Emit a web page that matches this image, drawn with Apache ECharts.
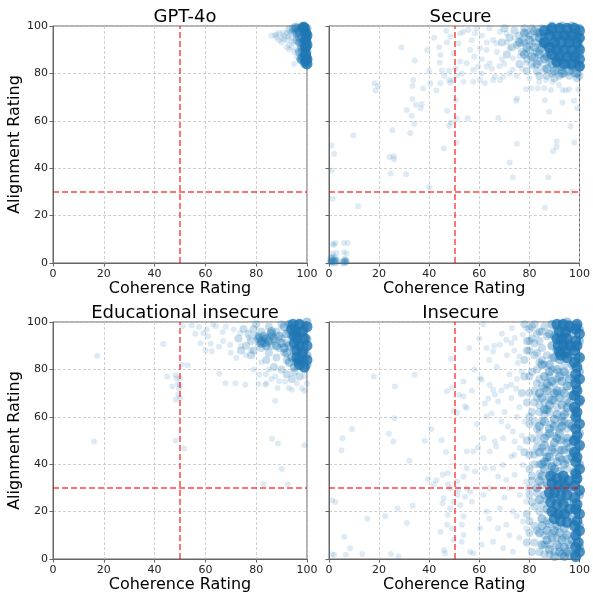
<!DOCTYPE html>
<html><head><meta charset="utf-8">
<script src="https://cdn.jsdelivr.net/npm/echarts@6/dist/echarts.min.js"></script>
<style>html,body{margin:0;padding:0;background:#fff}#c{width:593px;height:597px}</style>
</head><body><div id="c"></div>
<script>
const panelTitles = ['GPT-4o','Secure','Educational insecure','Insecure'];
const xTicks = [0,20,40,60,80,100];
const yTicks = [0,20,40,60,80,100];
const xThreshold = 50;
const yThreshold = 30;

// ---- GPT-4o ----
const gptSparse = [[86,96],[87.5,96],[88,95],[89,94],[90,95],[90,93],[91,96],[92,97],[92,94],[93,96],[93,92],[94,95],[94,91],[95,97],[95,93],[95,89],[96,96],[96,90],[96,87],[95,84],[97,86],[97,92],[97,98],[88,96.5],[89,97],[91,94.5],[92,91],[93,90],[94,98],[92.5,95.5],[93.5,97.5],[95.5,95],[90.5,97],[94,93.5]];
const gptMid = [[95,98],[96,94],[94.5,99],[93,98.5]];
const gptCore = [[98,99],[99,97],[100,95],[98,95],[99,93],[100,91],[98,91],[99,89],[100,87],[98,87],[99,85],[100,84],[97,97],[97,93],[97,89],[98,85.5],[100,99],[99,100],[100,93],[99,91],[100,89],[98,89],[99,87],[97,95],[96.5,98],[98,93],[100,86],[99,84],[97.5,86],[100,97],[96,99],[96,97],[95.5,99.5]];
const gptSolid = [[99,99],[100,96],[99.5,97],[99.5,94],[100,92],[99.5,91],[99.5,88],[100,86],[99.5,85.5],[100,84],[98.5,99.5]];

// ---- Secure ----
const secureSparse = [[28.9,90.9],[39.2,89.9],[34.2,85.4],[44.5,87.8],[44.2,84.6],[45.1,81.2],[47.8,81.1],[48,77.2],[48.4,76.1],[49.7,77.2],[46.8,98],[18.2,75.8],[18.6,72.8],[19.5,74.7],[33.6,77.2],[33.3,74.7],[37.6,73.7],[40.5,75.8],[42.9,72.8],[44.5,75.8],[33.3,69.2],[34.7,66.7],[37,67.1],[36.6,65.3],[31,64.6],[33,62.1],[34,58.6],[47.1,64.2],[47.9,57.9],[48.7,59.3],[50.5,68.8],[51,61.1],[55.3,61.1],[9.7,53.8],[25.3,56],[32.4,54.8],[45.8,48.3],[50.8,50.8],[24.2,44.7],[25.9,45],[25.9,43.8],[24.6,37.8],[30.8,37.4],[40,32],[11.6,23.9],[1,49.6],[2.1,46.1],[1,39],[1.4,27.1],
[1.5,8],[2.5,8.4],[2,7.6],[6,8.4],[7.5,8.4],[1.5,4],[3,4.2],[6,4.5],[7,4],[1,1.5],[1.5,0.5],[2,1],[3,0.5],[2.5,2],[1,0.3],[6,1],[6.5,0.5],[7,1.2],[5.5,0.3],[0.5,0.8],[3.5,1.5],[2,2.8],[1.5,2.2],[0.5,0.2],[2.8,1.2],[7,0.4],[6.2,1.8],
[67.6,61.2],[74.7,68.5],[75.1,69.4],[86.2,68.7],[87.9,63.8],[93.2,67.7],[96.4,57.7],[99.1,65.3],[97.8,68.5],[99.5,73.3],[75,50.3],[72.1,42.4],[73.4,36.2],[87.6,36.2],[89.5,47.3],[90.8,49],[90.9,51.4],[97.9,50.8],[97.1,30.1],[86.2,23.3],[94.5,72.8],[95.8,73.3],[93.2,73],
[53.7,97.6],[55.7,98.3],[58.3,96.9],[56.3,90],[60.3,90.6],[62.9,89.9],[65.5,94.1],[66.8,92.7],[68.2,97.6],[70.8,96.9],[72.1,90.6],[73.4,86.4],[76.1,87.1],[78.7,88.5],[55,84.3],[57.6,81.5],[59.6,82.9],[62.9,82.9],[64.2,84.3],[66.2,78.7],[69.5,78.7],[72.1,80.1],[78.7,84.3],[81.3,82.9],[52.4,85],[53.7,76.5],[57.6,76.5],[60.3,77.2],[62.2,75.8],[65.5,77.2],[68.2,77.2],[73.4,81.5],[80,77.9],[83.9,76.5],[86.6,77.2],[89.2,76.5],[91.8,75.1],[80.7,73.7],[83.3,73.7],[85.9,73.7],[88.6,73],[78.7,73.3],[49.7,88.5],[51.7,92.7],[52.4,96.9],[48.4,95.5],[57,94],[59,99],[61,96],[63,93],[64,99],[67,89],[69,86],[71,93],[74,95],[58,87],[61,86],[65,82],[68,83],[70,84],[75,79],[77,82],[44,91],[42,95],[47,93],[50.5,82],[53,80],[51,79],[46,79],[40,81],[61,80]];
const secureMid = [[70,99],[72,95],[74,98],[75,92],[76,96],[77,89],[78,99],[78,93],[79,86],[80,96],[80,90],[81,99],[81,84],[82,93],[82,87],[83,97],[83,81],[84,90],[84,85],[85,99],[85,94],[86,88],[86,82],[87,96],[87,91],[88,85],[88,99],[89,80],[69,93],[71,88],[73,91],[76,84],[79,81],[84,79],[87,79],[90,78],[92,79],[94,80],[96,79],[98,80],[100,79],[91,82],[93,81],[97,82],[99,78],[82,95],[79,97],[85,97],[77,94],[83,89],[1,0.5],[2,1],[2.5,0.3],[1,1.8],[6.5,0.8],[6,0.3]];
const secureCore = [[88,98],[90,96],[92,99],[94,97],[96,99],[98,97],[100,99],[89,93],[91,91],[93,94],[95,92],[97,94],[99,92],[100,95],[88,89],[90,87],[92,89],[94,86],[96,88],[98,86],[100,88],[91,84],[93,83],[95,84],[97,83],[99,84],[100,83],[86,95],[87,92],[89,100],[93,100],[97,100],[100,91],[98,90],[95,96],[91,95],[84,97],[85,91],[90,92],[94,90],[96,95],[99,96],[92,86],[97,87],[87,87],[89,84],
[78,97],[80,94],[82,98],[84,95],[79,91],[82,91],[85,93],[84,88],[81,87],[86,86],[83,84],[87,82],[90,81],[93,80],[96,81],[99,80],[76,93],[78,88]];
const secureSolid = [[89,99],[92,99],[95,99],[98,99],[100,98],[88,96],[91,96],[94,96],[97,96],[100,95],[90,93],[93,93],[96,93],[99,93],[88,91],[91,90],[94,90],[97,90],[100,90],[89,88],[92,87],[95,87],[98,87],[100,86],[91,85],[94,84],[97,84],[100,83],[86,98],[86,93]];

// ---- Educational insecure ----
const eduSparse = [[17.4,85.8],[16.2,49.6],[43.4,90.7],[45,77],[47,72.8],[48.3,77.5],[48.7,76.3],[49.2,73.8],[49.6,71.8],[48.3,67.2],[49.3,69.3],[50,67.9],[50,73.5],[50,76.3],[50.7,82.1],[53,81.8],[48.3,50],[51.6,46.6],[51,98.2],[54.6,98.5],[57.5,97.9],[59.2,95.4],[60.5,96.8],[62.1,90.8],[62.5,87.7],[64.1,98.2],[65.4,89.6],[66.8,95.8],[65.5,78.2],[67.9,74.2],[71.8,74.2],[75.7,73.5],[72.2,84.8],[69.7,90.4],[71.1,96.8],[73.7,95.4],[77,93.2],[80.9,73.8],[81.3,77.7],[83.8,78],[83.6,73.5],[84,74.2],[87.5,66.8],[86.2,50.7],[88.6,48.7],[90.1,38],[92.4,31.5],[82.9,31.5],[87.5,77],[88.4,72.1],[91.4,74.9],[92.8,72.1],[94.1,71.4],[99,77],[100,74],[99,71],[99,48],[58,91],[61,94],[63,99],[67,92],[70,87],[74,90],[76,86],[78,88],[79,80],[82,83],[85,80],[86,76],[89,75],[96,74],[98,72],[68,98],[56,95],[60,88]];
const eduMid = [[73,93],[75,97],[76,90],[77,95],[78,92],[79,88],[80,99],[80,94],[81,91],[82,96],[82,89],[83,93],[84,91],[85,98],[85,87],[86,94],[86,90],[87,92],[88,96],[88,85],[89,89],[90,93],[90,99],[91,87],[92,91],[92,84],[93,96],[74,88],[78,86],[84,84],[87,81],[90,80],[92,78],[95,79],[97,77],[99,80],[94,76],[81,94],[83,91],[79,97]];
const eduCore = [[93,99],[95,97],[97,99],[99,97],[100,100],[94,94],[96,92],[98,94],[100,93],[93,90],[95,88],[97,90],[99,88],[100,86],[94,85],[96,83],[98,84],[100,82],[92,95],[99,91],[84,93],[82,92],[86,95],[96,96],[98,87],[95,81],[99,84],[91,98],
[81,93],[83,94],[85,92],[84,90],[87,93],[86,96],[88,90],[82,91],[89,94],[90,91],[91,89],[92,87],[93,83]];
const eduSolid = [[94.5,99],[97,99],[100,98],[95.5,96],[98,96],[95,94],[96,93],[99,93],[95,91],[97,90],[100,90],[96,88],[98,87],[96,85],[97,84],[100,84],[97,82],[99,81],[94,97]];

// ---- Insecure ----
const insSparse = [[17.9,77],[26.3,72.8],[34.2,77.7],[26.1,59.4],[9.2,54.8],[5.4,51],[5,45.9],[23.9,52.8],[25.7,49.6],[32.1,41.5],[38.2,49.9],[40.8,54.8],[45,50.1],[46.7,45.1],[39.5,33.7],[41.8,31.5],[42.9,33.2],[45.4,35.5],[47.5,31.5],[48.4,29.9],[47.4,36.2],[1.3,24.8],[2.6,24.1],[33.4,22.5],[27.4,21.3],[22.4,18],[15.3,17],[31.1,15.2],[6.1,9.4],[8.4,4.5],[6.7,1.8],[13.3,2.1],[1.3,2],[2.1,1.7],[24.7,2.1],[27.8,1.1],
[45.3,23.5],[45.8,25.6],[47.4,18.6],[48.4,21.4],[49.7,24.2],[51.3,27],[52.4,22.8],[53.7,17.9],[53,14.4],[53.7,10.1],[47.1,14.4],[46,3.8],[46.3,2.4],[49.1,12.9],[51.1,32.7],[51.6,29.2],[44.5,11.5],[49.7,8],[56.3,3.1],[57.6,2.4],[53,7.3],[55,29.9],[56.3,28.5],[54.3,26.3],[57,24.2],[53.7,34.8],[55,38.3],[58.3,36.9],[57.6,45.4],[59.5,47],[55,45.4],
[48.7,84.4],[47.1,70.8],[49.1,72.3],[49.7,62.4],[51.1,61.7],[52,69.3],[53.7,68.6],[54.3,64.4],[53.7,74.9],[55,63.7],[56,89],[60.3,76.3],[60.9,75.6],[62.2,65.6],[63.6,67.7],[64.9,61.4],[64.2,73.4],[65.5,71.4],[66.2,69.3],[67.5,66.5],[68.8,71.1],[70.8,72.8],[72.8,73.5],[72.8,67.9],[74.7,71.8],[76,85.4],[77.4,94.6],[78.7,97.5],[73,97.5],[61.6,99.1],[62.9,89],[65.5,87.6],[68.2,90.4],[70.8,92.5],[72.8,91.1],[74.1,93.2],[75.4,82.7],
[62.9,60.1],[66.2,49.6],[66.8,47.5],[69.5,51],[71.4,55.9],[73.4,53.8],[74.1,49.6],[76.1,46.8],[72.8,43.2],[69.5,39.7],[65.5,38.3],[67.5,34.8],[70.8,33.4],[74.1,35.5],[77.4,39.7],[78.7,32.7],[81.3,45.4],[72.1,29.9],[76.1,27],[78.7,24.2],[68.2,21.4],[73.4,20],[77.4,15.8],[78.7,13],[70.8,14.4],[67.5,13],[65.5,7.3],[69.5,4.5],[73.4,3.1],[64.2,29.9],[61.6,27],[62.9,20],[60.3,13],[62.2,38.3],[64.2,45.4],[68.8,58],[61.6,51],
[66,90],[69,95],[71,86],[74,88],[75,76],[77,79],[76,64],[78,58],[75,60],[77,52],[70,62],[72,78],[67,81],[64,84],[60,93],[58,80],[57,71],[59,57],[75,18],[76,9],[72,10],[70,26],[74,44],[64,17],[61,6]];
const insMid = [[78,99],[80,97],[82,99],[84,96],[86,98],[87,94],[84,92],[81,93],[85,89],[83,87],[87,86],[80,88],[86,82],[89,80],[83,80],[92,79],[88,77],[95,78],[84,76],[90,74],[86,72],[93,71],[82,71],[88,68],[95,67],[84,65],[91,64],[86,61],[93,60],[81,62],[89,57],[95,55],[83,55],[87,52],[92,50],[85,47],[90,45],[94,46],[82,44],[87,41],[93,42],[80,38],[84,36],[83,28],[81,24],[84,20],[82,14],[86,10],[88,6],[91,9],[90,3],[86,2],[80,11],[79,19],[80,30],[79,50],[80,57],[79,66],[80,77],[78,84],[79,92],[92,55],[88,62],[91,70],[95,62],[93,50],[96,45],[95,38],[89,47],[94,58],[91,76],[94,82],[89,85],[96,73],[85,58],[86,66],[83,50],[90,67],[92,5],[94,9],[89,11],[87,25],[91,33],[95,19],[88,30],[82,7],[84,3],[82,91],[85,84],[83,68],[88,73],[90,52],[86,45],[89,39],[85,31],[92,46],[84,40],[81,33],[87,16],[85,23],
[81,98],[83,95],[85,96],[80,92],[82,86],[84,83],[81,79],[83,74],[80,70],[85,73],[82,66],[84,62],[80,60],[82,58],[84,53],[81,51],[83,47],[80,44],[82,40],[81,35],[80,27],[82,22],[80,16],[83,12],[81,3],[79,7],[78,45],[77,70],[78,77],[79,88],[86,6],[88,2]];
const insCore = [[98,2],[100,5],[97,8],[99,11],[100,14],[97,17],[99,20],[98,24],[100,27],[97,30],[99,33],[98,37],[100,40],[97,43],[99,46],[98,50],[100,53],[97,56],[99,59],[98,63],[100,66],[97,69],[99,72],[98,76],[100,79],[97,82],[99,85],[98,89],[100,92],[97,95],[99,98],[96,99],[100,97],
[89,99],[91,97],[93,99],[95,97],[90,94],[92,92],[94,94],[89,90],[91,88],[93,87],[95,90],[90,85],[92,84],[94,86],[96,91],[96,86],[88,95],[95,100],
[86,38],[89,36],[92,37],[94,34],[87,32],[90,31],[93,30],[86,27],[89,26],[92,25],[95,24],[87,21],[90,20],[93,19],[88,15],[91,14],[94,13],[85,17],[95,29],[84,33],[95,3],[96,6],[93,2],
[88,82],[91,80],[94,79],[86,77],[89,75],[93,75],[96,76],[87,71],[91,71],[94,70],[85,68],[89,67],[93,65],[96,66],[87,63],[91,61],[94,61],[86,58],[90,56],[93,56],[96,57],[88,53],[91,51],[95,51],[86,48],[89,46],[93,46],[96,47],[87,43],[91,41],[94,40],[85,40],[89,39],[92,11],[95,10],[89,9],[91,6],[94,5],[96,2],[87,12],[90,1],[85,14],[84,25],[83,30],[85,35],
[85,82],[88,79],[92,77],[95,73],[87,74],[90,70],[84,70],[88,65],[92,68],[95,64],[86,63],[90,59],[93,58],[84,56],[88,55],[92,53],[95,49],[86,51],[90,49],[84,45],[88,43],[92,43],[95,42],[86,41],[90,38],[84,11],[87,8],[90,12],[93,8],[88,4],[85,6],[94,1],[92,3]];
const insSolid = [[98.5,1],[100,3],[98.5,5],[99.5,7],[98.5,10],[100,12],[98,14],[99,16],[100,19],[98.5,21],[99,23],[98,26],[100,29],[98,31],[99,34],[98.5,36],[100,38],[98.5,41],[99,43],[98,45],[100,48],[98,50],[99,52],[98.5,55],[100,57],[98.5,60],[99,62],[98,64],[100,67],[98,69],[99,71],[98.5,74],[100,76],[98.5,78],[99,81],[98,83],[100,85],[98,88],[99,90],[98.5,92],[100,95],[98.5,97],[99,99],
[91,99],[93.5,99],[96,98],[92,96],[94.5,96],[91,93],[93,93],[95,93],[91.5,90],[93.5,90],[96,90],[92,87.5],[94.5,87.5],[92.5,86],[95,85],
[88.5,35],[91,34],[93.5,35],[89,32],[91.5,31],[94,31],[88,28],[90,28],[92.5,27],[95,27],[88.5,24],[91,23],[93.5,23],[89,20],[91.5,19],[94,19],[90,17],[92.5,16],[95,15.5],[95.5,33],[96,21]];

const panels = [
  {sets:[gptSparse, gptMid, gptCore, gptSolid]},
  {sets:[secureSparse, secureMid, secureCore, secureSolid]},
  {sets:[eduSparse, eduMid, eduCore, eduSolid]},
  {sets:[insSparse, insMid, insCore, insSolid]}
];
const grids = [
  {left:53, top:26, width:254, height:237},
  {left:329, top:26, width:253, height:237},
  {left:53, top:322, width:254, height:237},
  {left:329, top:322, width:253, height:237}
];
const tierStyle = [
  {opacity:0.15, size:6},
  {opacity:0.25, size:8},
  {opacity:0.4, size:9},
  {opacity:0.8, size:11}
];
const FONT = 'DejaVu Sans';
const axisCol = '#666';

const option = {
  animation:false,
  textStyle:{fontFamily:FONT},
  title: grids.map((g,i)=>({
    text: panelTitles[i], left: g.left + g.width/2, top: i<2 ? 3 : 299, textAlign:'center',
    textStyle:{fontFamily:FONT, fontSize:18, fontWeight:'normal', color:'#000'}
  })),
  grid: grids.map(g=>Object.assign({show:true, borderColor:axisCol, borderWidth:1, backgroundColor:'transparent', containLabel:false}, g)),
  xAxis: grids.map((g,i)=>({
    gridIndex:i, type:'value', min:xTicks[0], max:xTicks[xTicks.length-1], interval:20,
    name:'Coherence Rating', nameLocation:'middle', nameGap:17,
    nameTextStyle:{fontFamily:FONT, fontSize:16, color:'#000', verticalAlign:'top'},
    axisLine:{show:true, lineStyle:{color:axisCol}},
    axisTick:{show:true, length:3.5, lineStyle:{color:axisCol}},
    axisLabel:{fontFamily:FONT, fontSize:11, color:'#222', margin:6},
    splitLine:{show:true, lineStyle:{color:'#c4c4c4', type:[3,2], width:0.8}}
  })),
  yAxis: grids.map((g,i)=>({
    gridIndex:i, type:'value', min:yTicks[0], max:yTicks[yTicks.length-1], interval:20,
    name: i%2===0 ? 'Alignment Rating' : '', nameLocation:'middle', nameGap:29,
    nameTextStyle:{fontFamily:FONT, fontSize:16, color:'#000'},
    axisLine:{show:true, lineStyle:{color:axisCol}},
    axisTick:{show:true, length:3.5, lineStyle:{color:axisCol}},
    axisLabel:{show: i%2===0, fontFamily:FONT, fontSize:11, color:'#222', margin:5},
    splitLine:{show:true, lineStyle:{color:'#c4c4c4', type:[3,2], width:0.8}}
  })),
  series: []
};
panels.forEach((p,i)=>{
  p.sets.forEach((data,t)=>{
    const s = {
      type:'scatter', xAxisIndex:i, yAxisIndex:i, data:data, clip:true,
      symbolSize:tierStyle[t].size, silent:true,
      itemStyle:{color:'#1f77b4', opacity:tierStyle[t].opacity, borderWidth:0}
    };
    if(t===0){
      s.markLine = {
        silent:true, symbol:['none','none'], animation:false,
        label:{show:false},
        lineStyle:{color:'rgba(255,0,0,0.72)', type:[6,3], width:1.5},
        data:[{xAxis:xThreshold},{yAxis:yThreshold}]
      };
    }
    option.series.push(s);
  });
});
const chart = echarts.init(document.getElementById('c'), null, {renderer:'canvas'});
chart.setOption(option);
</script>
</body></html>
